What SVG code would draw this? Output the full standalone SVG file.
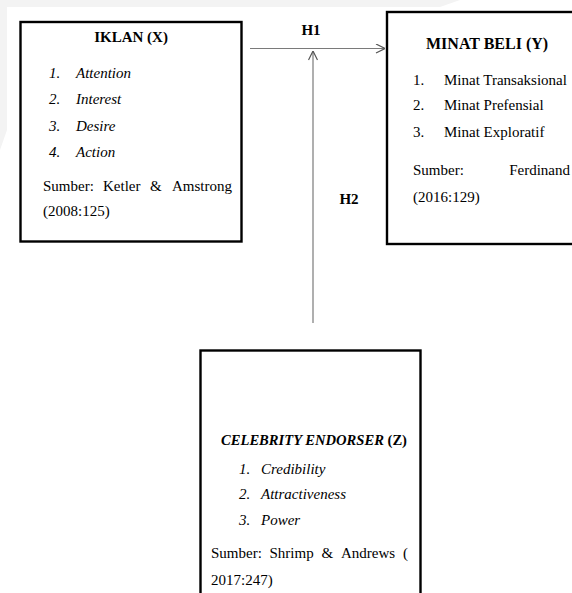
<svg xmlns="http://www.w3.org/2000/svg" width="572" height="593" viewBox="0 0 572 593">
<style>
.box{fill:#fff;stroke:#000;stroke-width:2.4}
.t{font-family:"Liberation Serif","Times New Roman",serif;font-size:15px;fill:#000}
.b{font-weight:bold}
.i{font-style:italic}
.c{text-anchor:middle}
.e{text-anchor:end}
.conn{stroke:#7a7a7a;stroke-width:1.2;fill:none}
</style>
<defs>
<marker id="arr" viewBox="0 0 10 10" refX="10" refY="5" markerWidth="10" markerHeight="10" markerUnits="userSpaceOnUse" orient="auto">
<path d="M1,0.5 L10,5 L1,9.5" fill="none" stroke="#555" stroke-width="1.2"/>
</marker>
</defs>
<rect width="572" height="593" fill="#fff"/>
<polygon points="0,0 460,0 440,7 7,7 7,130 0,150" fill="#f3f3f3"/>
<g id="connectors">
<line class="conn" x1="250" y1="48.5" x2="385" y2="48.5" marker-end="url(#arr)"/>
<line class="conn" x1="313" y1="323" x2="313" y2="51" marker-end="url(#arr)"/>
<text class="t b c" x="311" y="35">H1</text>
<text class="t b c" x="349" y="204">H2</text>
</g>
<g id="iklan">
<rect class="box" x="20.5" y="22" width="221" height="219.5"/>
<text class="t b c" x="131" y="42">IKLAN (X)</text>
<text class="t i" x="49" y="78">1.</text><text class="t i" x="76" y="78">Attention</text>
<text class="t i" x="49" y="104">2.</text><text class="t i" x="76" y="104">Interest</text>
<text class="t i" x="49" y="131">3.</text><text class="t i" x="76" y="131">Desire</text>
<text class="t i" x="49" y="157">4.</text><text class="t i" x="76" y="157">Action</text>
<text class="t" x="43" y="191">Sumber:</text><text class="t" x="103" y="191">Ketler</text><text class="t" x="150" y="191">&amp;</text><text class="t e" x="232" y="191">Amstrong</text>
<text class="t" x="43" y="216">(2008:125)</text>
</g>
<g id="minat">
<rect class="box" x="387" y="12" width="200" height="232"/>
<text class="t b" x="426" y="49" style="font-size:16px">MINAT BELI (Y)</text>
<text class="t" x="413" y="85">1.</text><text class="t" x="444" y="85">Minat Transaksional</text>
<text class="t" x="413" y="110">2.</text><text class="t" x="444" y="110">Minat Prefensial</text>
<text class="t" x="413" y="137">3.</text><text class="t" x="444" y="137">Minat Exploratif</text>
<text class="t" x="413" y="175">Sumber:</text><text class="t e" x="570" y="175">Ferdinand</text>
<text class="t" x="413" y="202">(2016:129)</text>
</g>
<g id="celebrity">
<rect class="box" x="200.5" y="350.5" width="220" height="260"/>
<text class="t b c" x="314" y="445" style="font-size:14.6px"><tspan class="i">CELEBRITY ENDORSER</tspan> (Z)</text>
<text class="t i" x="239" y="474">1.</text><text class="t i" x="261" y="474">Credibility</text>
<text class="t i" x="239" y="499">2.</text><text class="t i" x="261" y="499">Attractiveness</text>
<text class="t i" x="239" y="525">3.</text><text class="t i" x="261" y="525">Power</text>
<text class="t" x="211" y="558">Sumber:</text><text class="t" x="269.5" y="558">Shrimp</text><text class="t" x="321.5" y="558">&amp;</text><text class="t" x="341" y="558">Andrews</text><text class="t e" x="408" y="558">(</text>
<text class="t" x="211" y="585">2017:247)</text>
</g>
</svg>
